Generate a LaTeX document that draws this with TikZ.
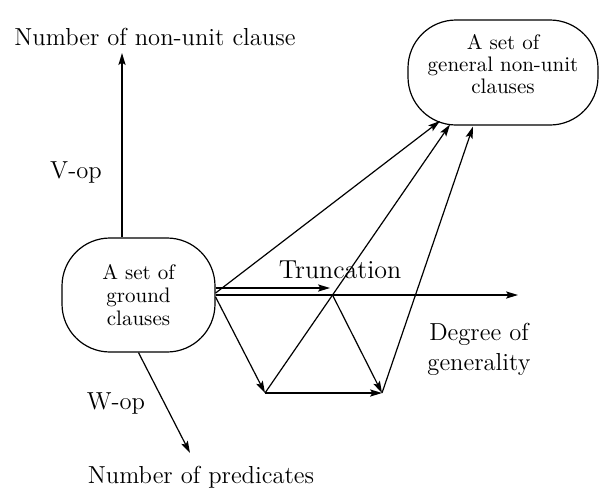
\documentclass[tikz,border=0pt]{standalone}
\usetikzlibrary{arrows.meta}
\begin{document}
\begin{tikzpicture}[x=0.5pt,y=-0.5pt,
  arr/.style={line width=0.6pt,-{Stealth[length=6pt,width=3.6pt,inset=1.2pt]}},
  box/.style={draw,line width=0.6pt,rounded corners=24pt,align=center,inner sep=0pt,
    font=\fontsize{10.5}{11.5}\selectfont},
  boxtext/.style={inner sep=0pt,align=center,font=\fontsize{10.5}{11}\selectfont},
  lab/.style={inner sep=0pt,align=center,font=\fontsize{12.3}{15}\selectfont}]
\useasboundingbox (0,0) rectangle (599,489);
\node[box,minimum width=76.5pt,minimum height=57pt] (g) at (138.5,295) {A set of\\ground\\clauses};
\node[box,minimum width=95pt,minimum height=52.5pt,
  label={[boxtext,yshift=4.3pt]center:{A set of\\general non-unit\\clauses}}] (h) at (503,72.5) {};
\node[lab] (nunit) at (155,37) {Number of non-unit clause};
\node[lab] (vop) at (76,172) {V-op};
\node[lab,font=\fontsize{13}{15}\selectfont] (trunc) at (340,270) {Truncation};
\node[lab] (deg) at (479,349) {Degree of\\generality};
\node[lab] (wop) at (116,403) {W-op};
\node[lab] (npred) at (201,477) {Number of predicates};
\coordinate (vtop) at (122,53);
\coordinate (hend) at (518,295);
\coordinate (t) at (330,288);
\coordinate (p) at (332.5,295);
\coordinate (bl) at (265,393);
\coordinate (br) at (382,393);
\coordinate (h1) at (440,121);
\coordinate (h2) at (450,124.5);
\coordinate (h3) at (473,126.5);
\coordinate (wend) at (190,453);
\draw[arr] (g.north -| vtop) -- (vtop);
\draw[arr] (g.east) -- (hend);
\draw[arr] (g.east |- t) -- (t);
\draw[arr] ([yshift=1pt]g.east) -- (h1);
\draw[arr] ([yshift=-1pt]g.east) -- (bl);
\draw[arr] (p) -- (br);
\draw[arr] (bl) -- (br);
\draw[arr] (bl) -- (h2);
\draw[arr] (br) -- (h3);
\draw[arr] (g.south) -- (wend);
\end{tikzpicture}
\end{document}
